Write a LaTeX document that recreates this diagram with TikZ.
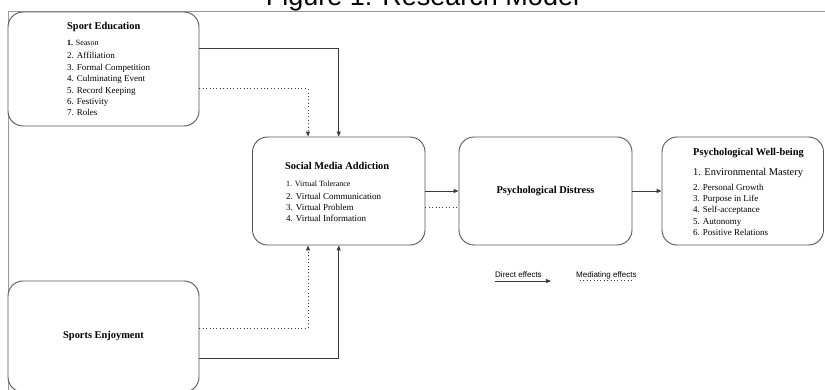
\documentclass[tikz,border=0pt]{standalone}
\usepackage{fontspec}
\setmainfont{Liberation Serif}
\newfontfamily\legendfont{Liberation Sans}
\usetikzlibrary{arrows.meta,calc}
\definecolor{boxgray}{HTML}{555555}
\definecolor{linegray}{HTML}{3A3A3A}
\definecolor{framegray}{HTML}{9A9A9A}
\begin{document}
\begin{tikzpicture}[x=1pt,y=-1pt,
  box/.style={draw=boxgray, line width=0.9pt, rounded corners=15pt, inner sep=0pt},
  ttl/.style={font=\fontsize{10.4}{12}\selectfont\bfseries, inner sep=0pt, anchor=base west},
  itm/.style={font=\fontsize{9}{11}\selectfont, anchor=base west, inner sep=0pt},
  itmsm/.style={font=\fontsize{8}{10}\selectfont, anchor=base west, inner sep=0pt},
  itmbig/.style={font=\fontsize{10.4}{12}\selectfont, anchor=base west, inner sep=0pt},
  legend/.style={font=\legendfont\fontsize{8}{10}\selectfont, anchor=base west, inner sep=0pt},
  tip/.style={-{Triangle[length=5pt,width=4pt]}},
  direct/.style={draw=linegray, line width=0.9pt, tip},
  mediate/.style={draw=linegray, line width=1pt, dash pattern=on 1pt off 2.4pt}]
\useasboundingbox (0,0) rectangle (825,390);
\clip (0,0) rectangle (825,390);

% title (cut by the top edge)
\node[anchor=base, font=\legendfont\fontsize{27}{30}\selectfont, inner sep=0pt] (fig) at (422.5,5.5) {Figure 1: Research Model};

% frame
\draw[framegray, line width=0.8pt] (8,392) -- (8,11.7) -- (826,11.7);

% boxes
\node[box, fill=white, minimum width=191pt, minimum height=114pt] (se) at (103.5,69) {};
\node[box, fill=white, minimum width=172.5pt, minimum height=108pt] (sma) at (338.75,191) {};
\node[box, fill=white, minimum width=173pt, minimum height=108pt, font=\fontsize{10.4}{12}\selectfont\bfseries] (pd) at (545.5,191) {Psychological Distress};
\node[box, fill=white, minimum width=161.5pt, minimum height=108pt] (pwb) at (742.75,191) {};
\node[box, fill=white, minimum width=191pt, minimum height=111pt, font=\fontsize{10.4}{12}\selectfont\bfseries] (sen) at (103.5,336.5) {\raisebox{-1.5pt}{Sports Enjoyment}};

% Sport Education text
\node[ttl] (seT) at (67,30) {Sport Education};
\node[itmsm] (se1) at (67,45.5) {\textbf{1.} Season};
\node[itm] (se2) at (67,59) {2. Affiliation};
\node[itm] (se3) at (67,70.4) {3. Formal Competition};
\node[itm] (se4) at (67,81.8) {4. Culminating Event};
\node[itm] (se5) at (67,93.2) {5. Record Keeping};
\node[itm] (se6) at (67,104.6) {6. Festivity};
\node[itm] (se7) at (67,116) {7. Roles};

% Social Media Addiction text
\node[ttl] (smaT) at (285,169.5) {Social Media Addiction};
\node[itmsm] (sma1) at (286,187) {1. Virtual Tolerance};
\node[itm] (sma2) at (286,200) {2. Virtual Communication};
\node[itm] (sma3) at (286,210.7) {3. Virtual Problem};
\node[itm] (sma4) at (286,221.4) {4. Virtual Information};

% Psychological Well-being text
\node[ttl] (pwbT) at (693,156) {Psychological Well-being};
\node[itmbig] (pwb1) at (693,175.5) {1. Environmental Mastery};
\node[itm] (pwb2) at (693,190.5) {2. Personal Growth};
\node[itm] (pwb3) at (693,201.7) {3. Purpose in Life};
\node[itm] (pwb4) at (693,212.9) {4. Self-acceptance};
\node[itm] (pwb5) at (693,224.1) {5. Autonomy};
\node[itm] (pwb6) at (693,235.3) {6. Positive Relations};

% connectors
\draw[direct] ([yshift=21pt]se.east) -| (sma.north);
\draw[mediate, tip] ([yshift=-20pt]se.east) -| ([xshift=-30.75pt]sma.north);
\draw[direct] ([yshift=-21.5pt]sen.east) -| (sma.south);
\draw[mediate, tip] ([yshift=8.5pt]sen.east) -| ([xshift=-30.75pt]sma.south);
\draw[direct] (sma.east) -- (pd.west);
\draw[mediate] ([yshift=-17pt]sma.east) -- ([yshift=-17pt]pd.west);
\draw[direct] (pd.east) -- (pwb.west);

% legend
\node[legend] (ld) at (495,277.5) {Direct effects};
\node[legend] (lm) at (576,277.5) {Mediating effects};
\coordinate (la) at (495,281);
\coordinate (lb) at (551,281);
\coordinate (lc) at (580,281);
\coordinate (ldd) at (634,281);
\draw[direct] (la) -- (lb);
\draw[mediate] (lc) -- (ldd);
\end{tikzpicture}
\end{document}
